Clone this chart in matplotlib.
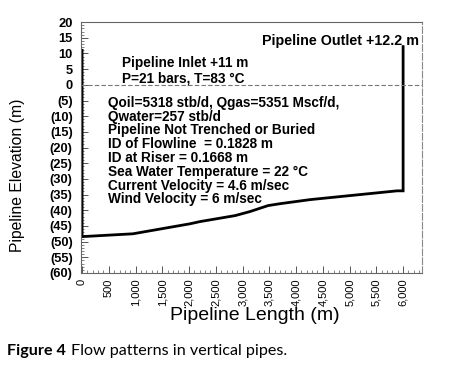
import matplotlib
matplotlib.use("Agg")
import matplotlib.pyplot as plt
from matplotlib.ticker import MultipleLocator, FixedLocator

# Pipeline profile (length m, elevation m)
length = [0, 0, 950, 2020, 2206, 2860, 3140, 3477, 3700, 4262, 5888, 6000, 6000]
elevation = [11, -48.4, -47.5, -44.3, -43.6, -41.7, -40.4, -38.5, -37.9, -36.6, -33.8, -33.8, 12.2]

y_ticks = [20, 15, 10, 5, 0, -5, -10, -15, -20, -25, -30, -35, -40, -45, -50, -55, -60]
y_labels = ["20", "15", "10", "5", "0", "(5)", "(10)", "(15)", "(20)", "(25)", "(30)",
            "(35)", "(40)", "(45)", "(50)", "(55)", "(60)"]
x_ticks = [0, 500, 1000, 1500, 2000, 2500, 3000, 3500, 4000, 4500, 5000, 5500, 6000]
x_labels = ["0", "500", "1,000", "1,500", "2,000", "2,500", "3,000", "3,500", "4,000",
            "4,500", "5,000", "5,500", "6,000"]

info_lines = [
    "Qoil=5318 stb/d, Qgas=5351 Mscf/d,",
    "Qwater=257 stb/d",
    "Pipeline Not Trenched or Buried",
    "ID of Flowline  = 0.1828 m",
    "ID at Riser = 0.1668 m",
    "Sea Water Temperature = 22 °C",
    "Current Velocity = 4.6 m/sec",
    "Wind Velocity = 6 m/sec",
]

plt.rcParams['font.family'] = ['Liberation Sans', 'DejaVu Sans']

fig = plt.figure(figsize=(4.5, 3.75), dpi=100)
ax = fig.add_axes([0.18, 0.272, 0.758, 0.669])

ax.plot(length, elevation, color="black", lw=2.0, solid_joinstyle="miter")
ax.axhline(0, color="#777777", lw=0.8, ls=(0, (4, 2)))

ax.set_xlim(-20, 6355)
ax.set_ylim(-60, 20)

ax.yaxis.set_major_locator(FixedLocator(y_ticks))
ax.set_yticklabels(y_labels, fontweight="bold")
ax.yaxis.set_minor_locator(MultipleLocator(1))
ax.xaxis.set_major_locator(FixedLocator(x_ticks))
ax.set_xticklabels(x_labels, rotation=90)
ax.xaxis.set_minor_locator(MultipleLocator(100))

ax.tick_params(axis="both", which="major", direction="in", length=5, width=0.7,
               color="#555555", pad=6)
ax.tick_params(axis="both", which="minor", direction="in", length=2.5, width=0.5,
               color="#555555")
ax.tick_params(axis="y", labelsize=9.3)
ax.tick_params(axis="x", labelsize=8, pad=4)

for s in ["left", "bottom", "top"]:
    ax.spines[s].set_color("#666666")
    ax.spines[s].set_linewidth(0.8)
ax.spines["right"].set_color("#888888")
ax.spines["right"].set_linewidth(0.8)
ax.spines["right"].set_linestyle((0, (6, 2)))

ax.set_ylabel("Pipeline Elevation (m)", fontsize=11.3, va="center")
ax.yaxis.set_label_coords(-0.185, 0.39)
ax.set_xlabel("Pipeline Length (m)", fontsize=14, va="top")
ax.xaxis.set_label_coords(0.51, -0.137)

tkw = dict(fontsize=9.8, fontweight="bold", va="center")
ax.text(6300, 14, "Pipeline Outlet +12.2 m", ha="right", fontsize=10.3,
        fontweight="bold", va="center")
ax.text(750, 7.0, "Pipeline Inlet +11 m", ha="left", **tkw)
ax.text(750, 2.0, "P=21 bars, T=83 °C", ha="left", **tkw)

y0 = -5.7
dy = -4.4
for i, line in enumerate(info_lines):
    ax.text(490, y0 + i * dy, line, ha="left", **tkw)

t1 = fig.text(0.015, 0.064, "Figure 4", fontsize=11.6, fontweight="bold", family="Lato",
              ha="left", va="center")
fig.canvas.draw()
bb = t1.get_window_extent(renderer=fig.canvas.get_renderer())
x_next = (bb.x1 + 5) / fig.bbox.width
fig.text(x_next, 0.064, "Flow patterns in vertical pipes.", fontsize=11.6, family="Lato",
         ha="left", va="center")

fig.savefig("out.png", dpi=100)
